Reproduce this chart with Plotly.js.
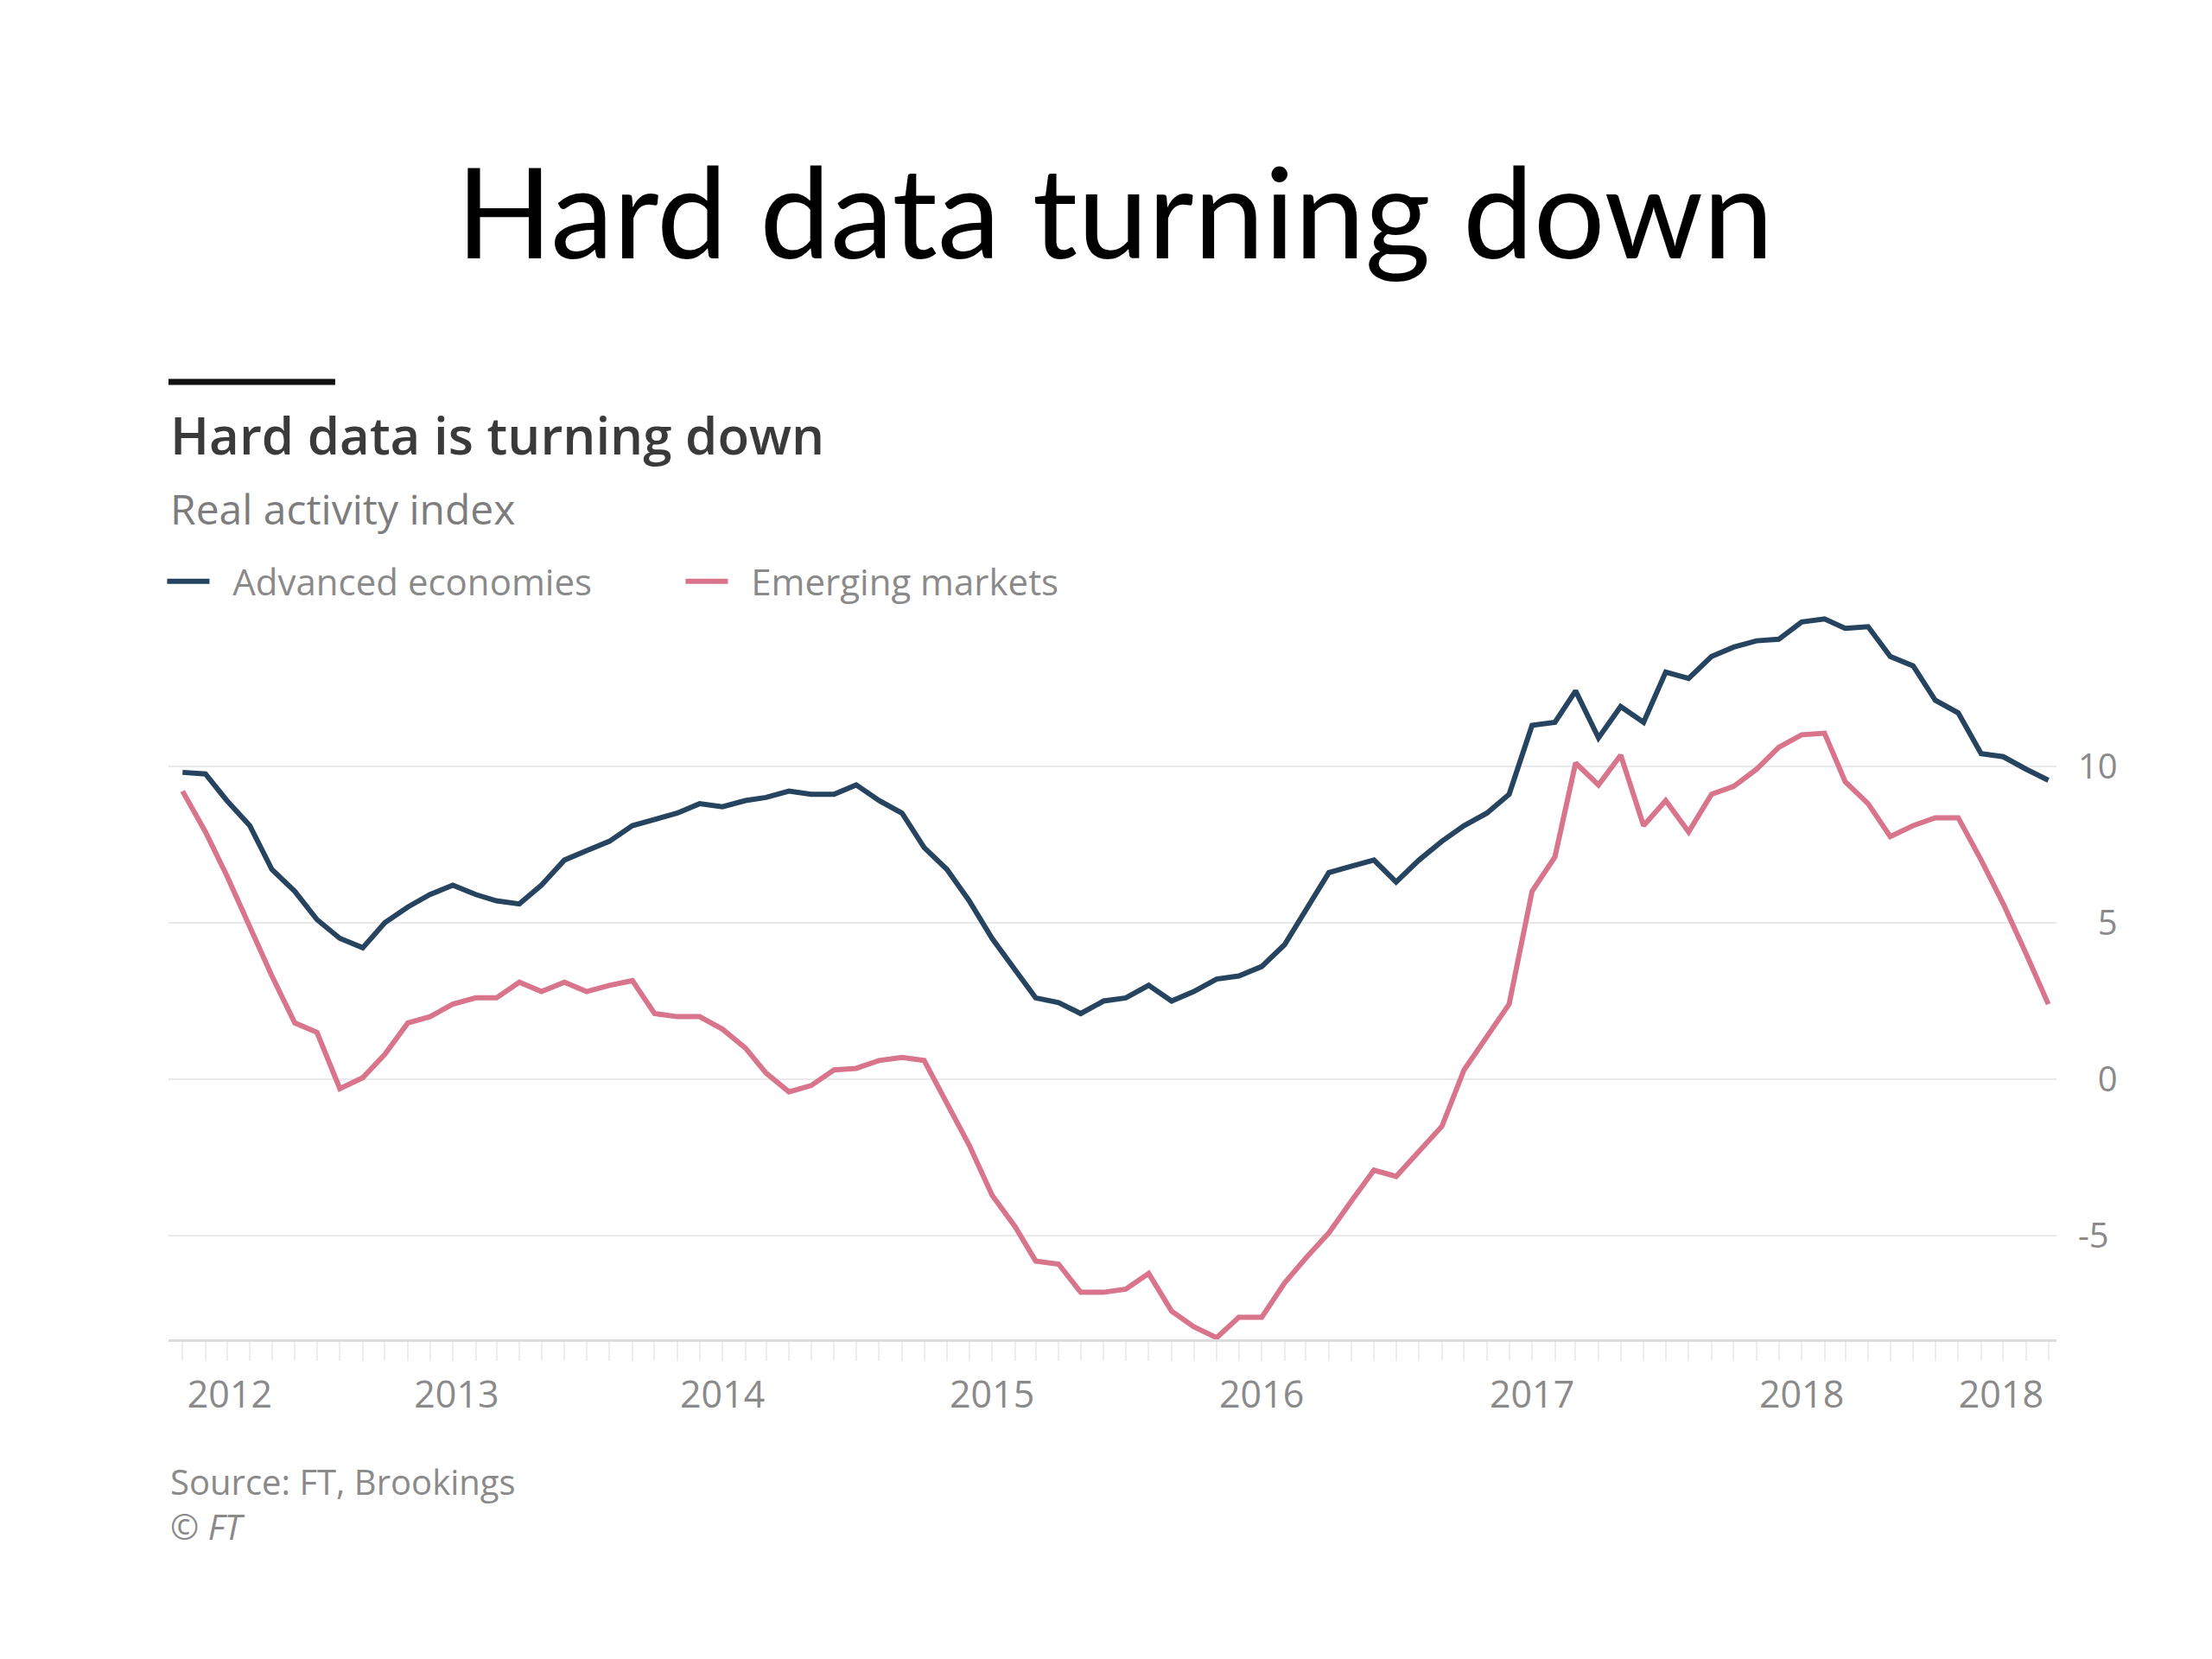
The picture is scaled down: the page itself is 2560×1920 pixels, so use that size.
<!DOCTYPE html>
<html>
<head>
<meta charset="utf-8">
<script src="https://cdn.plot.ly/plotly-3.0.1.min.js"></script>
<style>
  html, body { margin: 0; padding: 0; background: #ffffff; }
  #chart { width: 2560px; height: 1920px; }
</style>
</head>
<body>
<div id="chart"></div>
<script>
// ===== Data (monthly) =====
const months = [
  '2012-01-01','2012-02-01','2012-03-01','2012-04-01','2012-05-01','2012-06-01','2012-07-01','2012-08-01','2012-09-01','2012-10-01','2012-11-01','2012-12-01',
  '2013-01-01','2013-02-01','2013-03-01','2013-04-01','2013-05-01','2013-06-01','2013-07-01','2013-08-01','2013-09-01','2013-10-01','2013-11-01','2013-12-01',
  '2014-01-01','2014-02-01','2014-03-01','2014-04-01','2014-05-01','2014-06-01','2014-07-01','2014-08-01','2014-09-01','2014-10-01','2014-11-01','2014-12-01',
  '2015-01-01','2015-02-01','2015-03-01','2015-04-01','2015-05-01','2015-06-01','2015-07-01','2015-08-01','2015-09-01','2015-10-01','2015-11-01','2015-12-01',
  '2016-01-01','2016-02-01','2016-03-01','2016-04-01','2016-05-01','2016-06-01','2016-07-01','2016-08-01','2016-09-01','2016-10-01','2016-11-01','2016-12-01',
  '2017-01-01','2017-02-01','2017-03-01','2017-04-01','2017-05-01','2017-06-01','2017-07-01','2017-08-01','2017-09-01','2017-10-01','2017-11-01','2017-12-01',
  '2018-01-01','2018-02-01','2018-03-01','2018-04-01','2018-05-01','2018-06-01','2018-07-01','2018-08-01','2018-09-01','2018-10-01','2018-11-01','2018-12-01'
];

const advanced = [
  9.8, 9.75, 8.9, 8.1, 6.7, 6.0, 5.1, 4.5, 4.2, 5.0, 5.5, 5.9,
  6.2, 5.9, 5.7, 5.6, 6.2, 7.0, 7.3, 7.6, 8.1, 8.3, 8.5, 8.8,
  8.7, 8.9, 9.0, 9.2, 9.1, 9.1, 9.4, 8.9, 8.5, 7.4, 6.7, 5.7,
  4.5, 3.5, 2.6, 2.45, 2.1, 2.5, 2.6, 3.0, 2.5, 2.8, 3.2, 3.3,
  3.6, 4.3, 5.4, 6.6, 6.8, 7.0, 6.3, 7.0, 7.6, 8.1, 8.5, 9.1,
  11.3, 11.4, 12.4, 10.9, 11.9, 11.4, 13.0, 12.8, 13.5, 13.8, 14.0, 14.05,
  14.6, 14.7, 14.4, 14.45, 13.5, 13.2, 12.1, 11.7, 10.4, 10.3, 9.9, 9.55
];

const emerging = [
  9.2, 7.9, 6.5, 4.9, 3.3, 1.8, 1.5, -0.3, 0.05, 0.8, 1.8, 2.0,
  2.4, 2.6, 2.6, 3.1, 2.8, 3.1, 2.8, 3.0, 3.15, 2.1, 2.0, 2.0,
  1.6, 1.0, 0.2, -0.4, -0.2, 0.3, 0.35, 0.6, 0.7, 0.6, -0.8, -2.1,
  -3.7, -4.7, -5.8, -5.9, -6.8, -6.8, -6.7, -6.2, -7.4, -7.9, -8.25, -7.6,
  -7.6, -6.5, -5.7, -4.9, -3.9, -2.9, -3.1, -2.3, -1.5, 0.3, 1.4, 2.4,
  6.0, 7.1, 10.1, 9.4, 10.35, 8.1, 8.9, 7.9, 9.1, 9.35, 9.9, 10.6,
  11.0, 11.05, 9.5, 8.8, 7.75, 8.1, 8.35, 8.35, 7.0, 5.6, 4.0, 2.4
];

const seriesNames = ['Advanced economies', 'Emerging markets'];
const xTickVals = ['2012-03-05','2013-01-06','2014-01-01','2015-01-01','2016-01-01','2017-01-01','2018-01-01','2018-09-28'];
const xTickText = ['2012','2013','2014','2015','2016','2017','2018','2018'];
const yTickVals = [-5, 0, 5, 10];
const yTickText = ['-5', '\u20070', '\u20075', '10'];

// ===== Style =====
const FONT = 'Open Sans, Noto Sans, sans-serif';
const BLUE = '#26445f';
const PINK = '#d8758c';
const GREY_TEXT = '#8a8a8a';
const PAD = '\u00a0\u00a0'; // gap between legend swatch and label

const traces = [
  {
    x: months, y: advanced, name: PAD + seriesNames[0],
    type: 'scatter', mode: 'lines',
    line: { color: BLUE, width: 6 },
    hoverinfo: 'skip',
  },
  {
    x: months, y: emerging, name: PAD + seriesNames[1],
    type: 'scatter', mode: 'lines',
    line: { color: PINK, width: 6 },
    hoverinfo: 'skip',
  },
];

const layout = {
  width: 2560,
  height: 1920,
  paper_bgcolor: '#ffffff',
  plot_bgcolor: '#ffffff',
  font: { family: FONT, color: GREY_TEXT, size: 40 },
  margin: { l: 195, r: 180, t: 709, b: 370 },
  title: {
    text: 'Hard data turning down',
    font: { family: 'Lato, sans-serif', size: 146, color: '#000000' },
    xref: 'container', yref: 'container',
    x: 0.504, xanchor: 'center',
    y: 0.871, yanchor: 'middle',
  },
  showlegend: true,
  legend: {
    orientation: 'h',
    x: -0.003, xanchor: 'left',
    y: 1.043, yanchor: 'middle',
    font: { family: FONT, size: 42, color: GREY_TEXT },
    itemwidth: 49,
    entrywidth: 536,
    entrywidthmode: 'pixels',
    bgcolor: 'rgba(0,0,0,0)',
  },
  xaxis: {
    type: 'date',
    range: ['2011-12-13', '2018-12-12'],
    tickmode: 'array',
    tickvals: xTickVals,
    ticktext: xTickText,
    ticks: '',
    ticklabelstandoff: 24,
    tickfont: { family: FONT, size: 43, color: GREY_TEXT },
    showgrid: false,
    zeroline: false,
    showline: true,
    linecolor: '#dcdcdc',
    linewidth: 3,
    minor: { dtick: 'M1', ticks: 'outside', ticklen: 22, tickwidth: 2, tickcolor: '#eeeeee', showgrid: false },
    fixedrange: true,
  },
  yaxis: {
    side: 'right',
    range: [-8.3, 14.9],
    tickmode: 'array',
    tickvals: yTickVals,
    ticktext: yTickText,
    ticks: 'outside',
    ticklen: 16,
    tickcolor: 'rgba(0,0,0,0)',
    tickfont: { family: FONT, size: 40, color: GREY_TEXT },
    showgrid: true,
    gridcolor: '#e9e9e9',
    gridwidth: 2,
    zeroline: false,
    showline: false,
    fixedrange: true,
  },
  shapes: [
    { type: 'line', xref: 'paper', yref: 'paper', x0: 0, x1: 0.0883, y0: 1.3175, y1: 1.3175,
      line: { color: '#111111', width: 7 } },
  ],
  annotations: [
    { text: 'Hard data is turning down', xref: 'paper', yref: 'paper', x: 0, y: 1.2449,
      xanchor: 'left', yanchor: 'middle', showarrow: false,
      font: { family: FONT, size: 60, weight: 600, color: '#3a3a3a' } },
    { text: 'Real activity index', xref: 'paper', yref: 'paper', x: 0, y: 1.1427,
      xanchor: 'left', yanchor: 'middle', showarrow: false,
      font: { family: FONT, size: 48, color: '#7d7d7d' } },
    { text: 'Source: FT, Brookings<br><i>© FT</i>', xref: 'paper', yref: 'paper', x: 0, y: -0.2271,
      xanchor: 'left', yanchor: 'middle', align: 'left', showarrow: false,
      font: { family: FONT, size: 40, color: GREY_TEXT } },
  ],
};

Plotly.newPlot('chart', traces, layout, { displayModeBar: false, staticPlot: true });
</script>
</body>
</html>
